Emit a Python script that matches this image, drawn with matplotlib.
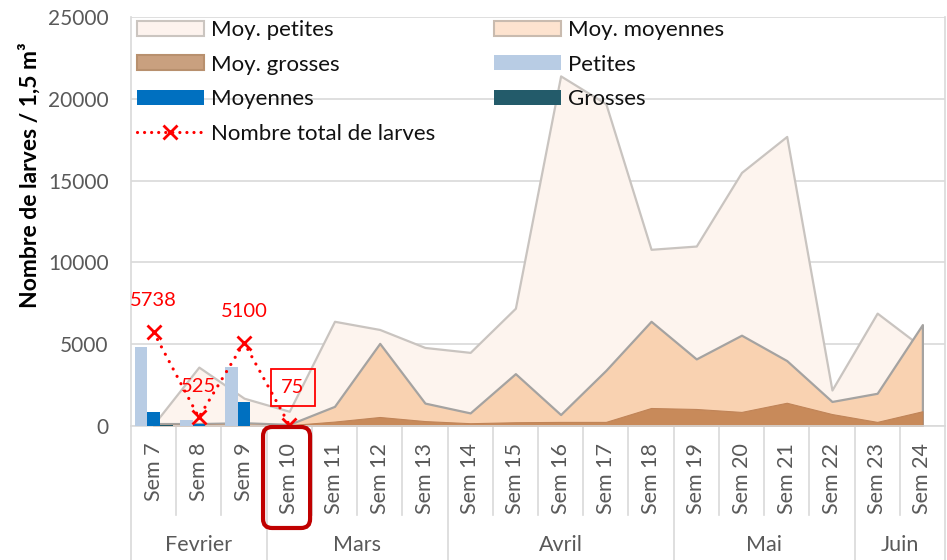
import matplotlib
matplotlib.use('Agg')
import matplotlib.pyplot as plt
import matplotlib.transforms as mtransforms
from matplotlib.patches import Patch, FancyBboxPatch
from matplotlib.lines import Line2D
import numpy as np

plt.rcParams['font.family'] = ['Lato', 'DejaVu Sans']

# ---------------- data ----------------
weeks = ['Sem 7', 'Sem 8', 'Sem 9', 'Sem 10', 'Sem 11', 'Sem 12', 'Sem 13', 'Sem 14',
         'Sem 15', 'Sem 16', 'Sem 17', 'Sem 18', 'Sem 19', 'Sem 20', 'Sem 21', 'Sem 22',
         'Sem 23', 'Sem 24']
months = ['Fevrier', 'Mars', 'Avril', 'Mai', 'Juin']
month_counts = [3, 4, 5, 4, 2]

moy_petites = [100, 3600, 1700, 900, 6400, 5900, 4800, 4500, 7200, 21400, 19700,
               10800, 11000, 15500, 17700, 2200, 6900, 4800]
moy_moyennes = [150, 150, 200, 100, 1200, 5050, 1400, 800, 3200, 700, 3400,
                6400, 4100, 5550, 4000, 1500, 2000, 6200]
moy_grosses = [60, 80, 80, 50, 270, 550, 300, 170, 230, 250, 250,
               1100, 1040, 860, 1420, 730, 250, 900]

bar_weeks = ['Sem 7', 'Sem 8', 'Sem 9', 'Sem 10']
petites = [4850, 370, 3590, 50]
moyennes = [850, 130, 1490, 20]
grosses = [38, 25, 20, 5]
total = [5738, 525, 5100, 75]

# ---------------- figure ----------------
W, H = 947, 560
fig = plt.figure(figsize=(W / 100, H / 100), dpi=100)
ax = fig.add_axes([131 / W, (H - 426) / H, (945 - 131) / W, (426 - 17) / H])

x = np.arange(len(weeks))
xb = np.array([weeks.index(w) for w in bar_weeks])

ax.fill_between(x, moy_petites, facecolor='#FDF4EE', edgecolor='#C9C4C0', linewidth=1.6, zorder=1)
ax.fill_between(x, moy_moyennes, facecolor='#F9D2B1', edgecolor='#A5A3A1', linewidth=1.6, zorder=1.2)
ax.fill_between(x, moy_grosses, facecolor='#C88A5A', edgecolor='#C08458', linewidth=0.8, zorder=1.4)

bw = 0.28
ax.bar(xb - bw, petites, bw, color='#B8CCE4', zorder=3)
ax.bar(xb, moyennes, bw, color='#0070C0', zorder=3)
ax.bar(xb + bw, grosses, bw, color='#215968', zorder=3)

ax.plot(xb, total, color='#FF0000', lw=2.3, linestyle=(0, (0.01, 2.6)),
        dash_capstyle='round', marker='x', ms=10, mew=2, zorder=5)

label_kw = dict(color='#FF0000', fontsize=14.5, ha='center', va='center',
                textcoords='offset points', zorder=6)
for i, (xi, v) in enumerate(zip(xb, total)):
    if i == 3:
        ax.annotate(str(v), (xi, v), xytext=(2.5, 27), **label_kw,
                    bbox=dict(boxstyle='square,pad=0.5', facecolor='none',
                              edgecolor='#FF0000', linewidth=1.3))
    else:
        ax.annotate(str(v), (xi, v), xytext=(0, 22.5), **label_kw)

ax.set_xlim(-0.5, len(weeks) - 0.5)
ax.set_ylim(0, 25000)
ax.set_yticks(np.arange(0, 25001, 5000))
ax.set_yticklabels([str(v) for v in range(0, 25001, 5000)])
ax.yaxis.grid(True, color='#D9D9D9', lw=1.2)
ax.set_axisbelow(True)
ax.tick_params(axis='y', length=0, pad=16, labelsize=15, labelcolor='#595959')
ax.set_xticks(x)
ax.set_xticklabels(weeks, rotation=90)
ax.tick_params(axis='x', length=0, pad=12, labelsize=15.5, labelcolor='#595959')
for s in ['top']:
    ax.spines[s].set_visible(False)
for s in ['left', 'right', 'bottom']:
    ax.spines[s].set_color('#D9D9D9')
    ax.spines[s].set_linewidth(1.2)

# category separators
trans = mtransforms.blended_transform_factory(ax.transData, fig.transFigure)
bounds = np.cumsum([0] + month_counts) - 0.5
for b in np.arange(len(weeks) + 1) - 0.5:
    if b in bounds:
        y1 = 0.0
    else:
        y1 = 1 - 515 / H
    ax.add_line(Line2D([b, b], [1 - 426 / H, y1], transform=trans, color='#D9D9D9',
                       lw=1.2, clip_on=False, zorder=0))
for m, a, b in zip(months, bounds[:-1], bounds[1:]):
    ax.text((a + b) / 2, 1 - 545 / H, m, transform=trans, ha='center', va='center',
            fontsize=15.5, color='#595959')

# highlight box around Sem 10
fig.canvas.draw()
i10 = weeks.index('Sem 10')
xl = ax.transData.transform((i10 - 0.58, 0))[0]
xr = ax.transData.transform((i10 + 0.46, 0))[0]
box = FancyBboxPatch((xl, H - 528), xr - xl, 528 - 427,
                     boxstyle='round,pad=0,rounding_size=9', transform=None,
                     facecolor='none', edgecolor='#C00000', linewidth=3, zorder=10)
fig.add_artist(box)

fig.text(30 / W, 1 - 175 / H, 'Nombre de larves / 1,5 m³', rotation=90, ha='center',
         va='center', fontweight='bold', fontsize=16.5, color='#000000')

# legend (two columns built separately)
h_mp = Patch(facecolor='#FDF3EE', edgecolor='#CBC5C0', linewidth=1.5)
h_mm = Patch(facecolor='#FDE3CF', edgecolor='#C9BBAF', linewidth=1.5)
h_mg = Patch(facecolor='#C9A07F', edgecolor='#B8906E', linewidth=1.5)
h_p = Patch(facecolor='#B8CCE4')
h_m = Patch(facecolor='#0070C0')
h_g = Patch(facecolor='#235B6A')
h_t = Line2D([], [], color='#FF0000', lw=2.3, linestyle=(0, (0.01, 2.2)),
             dash_capstyle='round', marker='x', ms=10, mew=2)

leg_kw = dict(frameon=False, loc='upper left', borderpad=0, borderaxespad=0,
              handlelength=3.0, handleheight=0.65, handletextpad=0.32,
              labelspacing=0.66, fontsize=16, labelcolor='#111111')
leg1 = fig.legend([h_mp, h_mg, h_m, h_t],
                  ['Moy. petites', 'Moy. grosses', 'Moyennes', 'Nombre total de larves'],
                  bbox_to_anchor=(137 / W, 1 - 20 / H), **leg_kw)
leg2 = fig.legend([h_mm, h_p, h_g], ['Moy. moyennes', 'Petites', 'Grosses'],
                  bbox_to_anchor=(494 / W, 1 - 20 / H), **leg_kw)

fig.savefig('out.png', dpi=100)
